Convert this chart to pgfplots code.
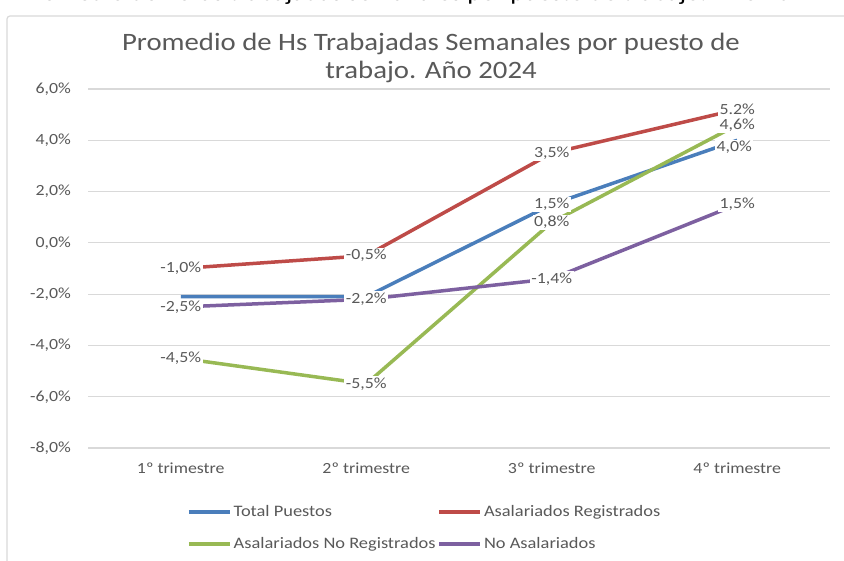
\documentclass[border=0pt]{standalone}
\usepackage{fontspec}
\setmainfont{Carlito}[FakeStretch=1.15]
\usepackage{pgfplots}
\pgfplotsset{compat=1.18}
\usepackage{pgfplotstable}
\definecolor{cblue}{HTML}{4A7EBB}
\definecolor{cred}{HTML}{BE4B48}
\definecolor{cgreen}{HTML}{98B954}
\definecolor{cpurple}{HTML}{7D60A0}
\definecolor{gridc}{HTML}{D9D9D9}
\definecolor{txt}{HTML}{595959}

\pgfplotstableread{
x tp ar anr na ltp lar lanr lna
0 -2.1 -1.0 -4.5 -2.5 -2,1 -1,0 -4,5 -2,5
1 -2.1 -0.5 -5.5 -2.2 -2,1 -0,5 -5,5 -2,2
2 1.5 3.5 0.8 -1.4 1,5 3,5 0,8 -1,4
3 4.0 5.2 4.6 1.5 4,0 5.2 4,6 1,5
}\data

\newcommand{\lblfont}{\fontsize{15.5bp}{18bp}\selectfont}

\pgfplotsset{
  lbl/.style={draw=none, forget plot, nodes near coords, point meta=explicit symbolic,
    nodes near coords={\pgfplotspointmeta\%},
    every node near coord/.append style={anchor=center, fill=white, inner sep=1.5bp, font=\lblfont, text=txt}}
}

\begin{document}
\begin{tikzpicture}[x=1bp,y=1bp]
\useasboundingbox (0,0) rectangle (844,561);
\fill[white] (0,0) rectangle (844,561);
\begin{scope}
\clip (0,549) rectangle (844,561);
\node[anchor=base west, inner sep=0, font=\fontsize{23bp}{23bp}\selectfont, text=black] at (20,560) {Promedio de horas trabajadas semanales por puesto de trabajo. Año 2024};
\end{scope}
\draw[gridc, line width=1.2bp, rounded corners=3bp] (7,-5) -- (7,545) -- (850,545);
\node[align=center, font=\fontsize{25bp}{28bp}\selectfont, text=txt] at (431,503) {Promedio de Hs Trabajadas Semanales por puesto de\\trabajo. Año 2024};

\begin{axis}[
  at={(88bp,113bp)}, anchor=south west, scale only axis,
  width=742bp, height=359bp,
  xmin=-0.5, xmax=3.5, ymin=-8, ymax=6,
  xtick={0,1,2,3},
  xticklabels={1º trimestre,2º trimestre,3º trimestre,4º trimestre},
  ytick={-8,-6,-4,-2,0,2,4,6},
  yticklabels={{-8,0\%},{-6,0\%},{-4,0\%},{-2,0\%},{0,0\%},{2,0\%},{4,0\%},{6,0\%}},
  ymajorgrids, grid style={gridc, line width=1.2bp},
  axis line style={draw=none}, major tick length=0pt,
  yticklabel style={anchor=east, inner sep=0pt, xshift=-17bp, font=\lblfont, text=txt},
  xticklabel style={anchor=center, inner sep=0pt, yshift=-20bp, font=\lblfont, text=txt},
  clip=false,
  legend columns=2,
  legend cell align=left,
  legend style={at={(axis description cs:0.1334,-0.153)}, anchor=north west, draw=none,
    fill=none, inner sep=0pt, font=\fontsize{16bp}{18bp}\selectfont, text=txt,
    nodes={text height=11bp, text depth=3bp, inner sep=2bp},
    row sep=14bp,
    /tikz/every even column/.append style={column sep=0pt}},
  legend image code/.code={\draw[#1] (0bp,0bp) -- (41bp,0bp);},
  every axis plot/.append style={line width=3.5bp, line join=round},
]
\addplot[cblue] table[x=x,y=tp]{\data};
\addlegendentry{Total Puestos}
\addplot[cred] table[x=x,y=ar]{\data};
\addlegendentry{Asalariados Registrados}
\addplot[cgreen] table[x=x,y=anr]{\data};
\addlegendentry{Asalariados No Registrados}
\addplot[cpurple] table[x=x,y=na]{\data};
\addlegendentry{No Asalariados}

\addplot[lbl, skip coords between index={0}{2}, skip coords between index={3}{4}] table[x=x,y=tp,meta=ltp]{\data};
\addplot[lbl, skip coords between index={0}{3},
  every node near coord/.append style={yshift=-7bp, xshift=-3bp}] table[x=x,y=tp,meta=ltp]{\data};
\addplot[lbl] table[x=x,y=ar,meta=lar]{\data};
\addplot[lbl] table[x=x,y=anr,meta=lanr]{\data};
\addplot[lbl] table[x=x,y=na,meta=lna]{\data};
\end{axis}
\end{tikzpicture}
\end{document}
